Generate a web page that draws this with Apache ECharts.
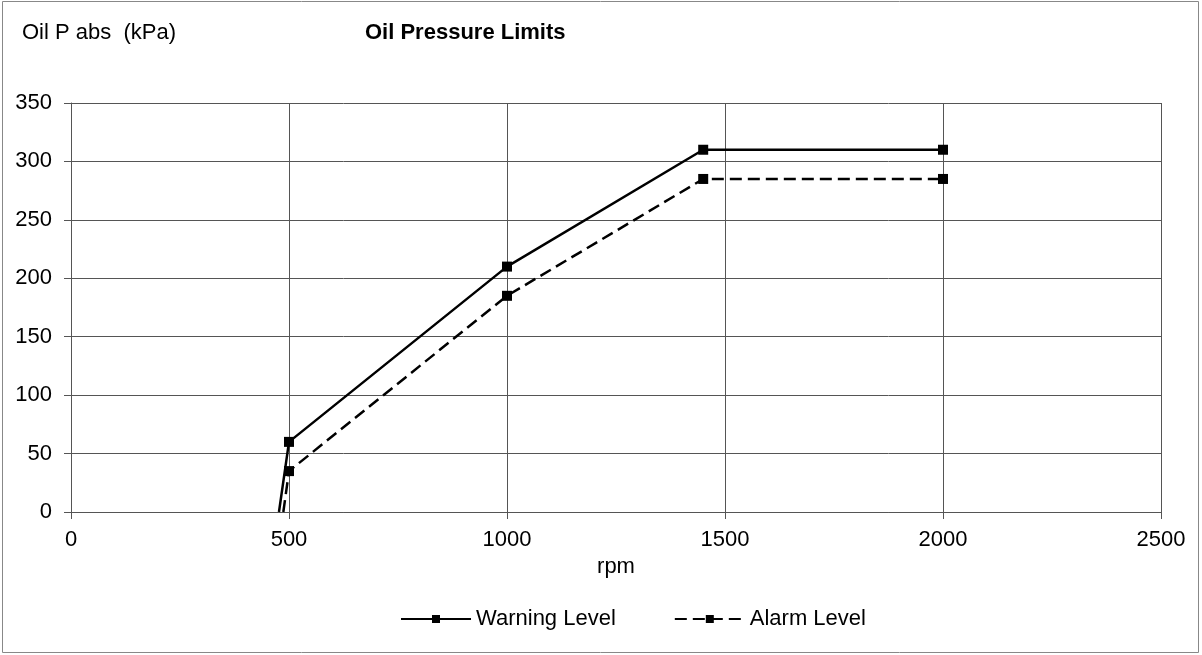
<!DOCTYPE html>
<html><head><meta charset="utf-8">
<script src="https://cdn.jsdelivr.net/npm/echarts@6/dist/echarts.min.js"></script>
<style>html,body{margin:0;padding:0;background:#fff}#c{width:1202px;height:655px}</style>
</head><body><div id="c"></div>
<script>
const warningRpm = [477, 500, 1000, 1450, 2000];
const warningKpa = [0, 60, 210, 310, 310];
const alarmRpm = [487, 500, 1000, 1450, 2000];
const alarmKpa = [0, 35, 185, 285, 285];
const xTicks = [0, 500, 1000, 1500, 2000, 2500];
const yTicks = [0, 50, 100, 150, 200, 250, 300, 350];

const chart = echarts.init(document.getElementById('c'));
const font = 'Liberation Sans, Arial, sans-serif';
const fs = 22;
const gridColor = '#555';
function pts(xs, ys){ return xs.map((x,i)=>({value:[x, ys[i]], symbolSize: i===0?0:10})); }
chart.setOption({
  animation:false,
  textStyle:{fontFamily:font},
  graphic:[
    {type:'rect', shape:{x:2.5,y:1.5,width:1196,height:651}, style:{fill:'none', stroke:'#888', lineWidth:1}, silent:true},
    {type:'text', left:22, top:22, style:{text:'Oil P abs  (kPa)', font:fs+'px '+font, fill:'#000'}},
    {type:'text', left:365, top:22, style:{text:'Oil Pressure Limits', font:'bold '+fs+'px '+font, fill:'#000'}}
  ],
  grid:{left:71, right:41, top:103, bottom:143, containLabel:false},
  legend:{
    top:603, left:395, itemWidth:70, itemHeight:10, itemGap:58,
    textStyle:{fontSize:fs, color:'#000', fontFamily:font},
    data:['Warning Level','Alarm Level']
  },
  xAxis:{
    type:'value', min:xTicks[0], max:xTicks[xTicks.length-1], interval:500,
    name:'rpm', nameLocation:'middle', nameGap:41,
    nameTextStyle:{fontSize:fs, color:'#000'},
    axisLine:{show:true, lineStyle:{color:gridColor, width:1}},
    axisTick:{show:true, length:7, lineStyle:{color:gridColor}},
    axisLabel:{fontSize:fs, color:'#000', margin:17, formatter:v=>String(v)},
    splitLine:{show:true, lineStyle:{color:gridColor, width:1}}
  },
  yAxis:{
    type:'value', min:yTicks[0], max:yTicks[yTicks.length-1], interval:50,
    axisLine:{show:true, lineStyle:{color:gridColor, width:1}},
    axisTick:{show:true, length:7, lineStyle:{color:gridColor}},
    axisLabel:{fontSize:fs, color:'#000', margin:19, formatter:v=>String(v)},
    splitLine:{show:true, lineStyle:{color:gridColor, width:1}}
  },
  series:[
    {name:'Warning Level', type:'line', data:pts(warningRpm, warningKpa), symbol:'rect', symbolSize:10,
     itemStyle:{color:'#000'}, lineStyle:{color:'#000', width:2.5, type:'solid'}},
    {name:'Alarm Level', type:'line', data:pts(alarmRpm, alarmKpa), symbol:'rect', symbolSize:10,
     itemStyle:{color:'#000'}, lineStyle:{color:'#000', width:2.5, type:[12,6]}}
  ]
});
</script></body></html>
